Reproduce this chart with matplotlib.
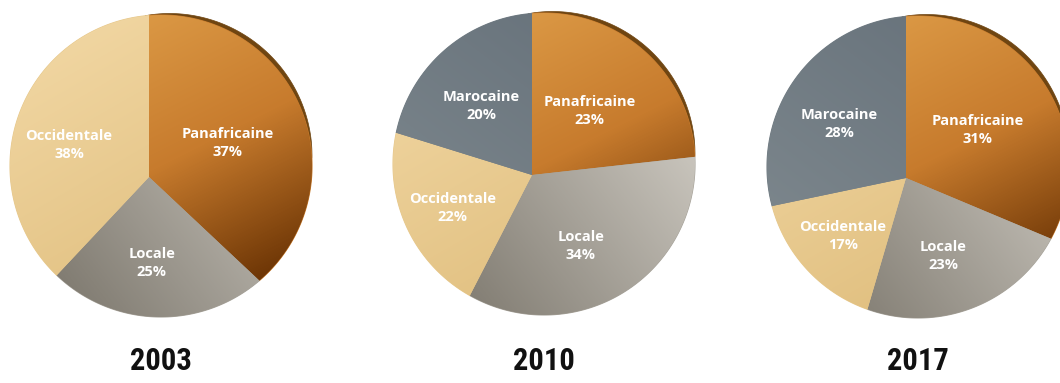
import numpy as np
import matplotlib
matplotlib.use("Agg")
import matplotlib.pyplot as plt
from matplotlib import font_manager
from matplotlib.patches import Polygon
from matplotlib.colors import LinearSegmentedColormap

# Parts of each year's programme, clockwise from 12 o'clock
years = ["2003", "2010", "2017"]
categories = ["Panafricaine", "Locale", "Occidentale", "Marocaine"]
shares_2003 = [37, 25, 38, 0]
shares_2010 = [23, 34, 22, 20]
shares_2017 = [31, 23, 17, 28]
all_shares = [shares_2003, shares_2010, shares_2017]

# Shading per slice: gradient direction (x right, y down) and colour stops
shading = {
    "Panafricaine": ((0.45, 0.89), [(0.0, "#dc9a46"), (0.5, "#c77b2d"), (1.0, "#6a3304")]),
    "Locale": ((0.8, -0.6), [(0.0, "#817c72"), (1.0, "#cfcbc3")]),
    "Occidentale": ((0.5, 0.87), [(0.0, "#f0d5a0"), (1.0, "#dfbd7c")]),
    "Marocaine": ((-0.6, 0.8), [(0.0, "#67727b"), (1.0, "#7d878d")]),
}
rim_colour = "#6f4511"

# Pie geometry in pixels (y grows downward)
W, H = 1060, 383
pie_centres = [(161, 166), (544, 164), (918, 167)]
radius = 151
apex_shift = (-12, 11)
label_dist = 0.57
year_baseline = 370


def narrow_bold():
    """Pick a condensed bold face if one is installed."""
    wanted = ["Roboto Condensed", "Liberation Sans Narrow", "DejaVu Sans", "Open Sans Condensed"]
    found = []
    for f in font_manager.fontManager.ttflist:
        narrow = ("Condensed" in f.name or "Narrow" in f.name
                  or str(f.stretch) in ("condensed", "semi-condensed", "extra-condensed"))
        bold = f.weight in ("bold", 700, "heavy", "extra bold", 800) or "Bold" in f.fname
        if narrow and bold and "Oblique" not in f.fname and "Italic" not in f.fname:
            rank = wanted.index(f.name) if f.name in wanted else len(wanted)
            found.append((rank, f.fname))
    if found:
        return font_manager.FontProperties(fname=sorted(found)[0][1], size=22)
    return font_manager.FontProperties(family="Roboto", weight="bold", size=21)


def ray_hit(apex, centre, theta):
    """Point where a ray from the apex (clockwise angle from top) meets the rim."""
    d = np.array([np.sin(theta), -np.cos(theta)])
    w = np.array(apex) - np.array(centre)
    b = w @ d
    s = -b + np.sqrt(b * b - (w @ w - radius ** 2))
    return np.array(apex) + s * d


year_font = narrow_bold()

fig = plt.figure(figsize=(W / 100, H / 100), dpi=100)
ax = fig.add_axes([0, 0, 1, 1])
ax.set_xlim(0, W)
ax.set_ylim(H, 0)
ax.axis("off")

for year, shares, (cx, cy) in zip(years, all_shares, pie_centres):
    apex = np.array([cx + apex_shift[0], cy + apex_shift[1]])
    total = float(sum(shares))
    x0, x1 = cx - radius - 10, cx + radius + 10
    y0, y1 = cy - radius - 10, cy + radius + 10
    gx, gy = np.meshgrid(np.arange(x0, x1) + 0.5, np.arange(y0, y1) + 0.5)
    u, v = (gx - cx) / radius, (gy - cy) / radius

    # dark edge showing behind the upper-right of the disc
    phi = np.radians(np.linspace(3, 96, 120))
    th = 4.5 * np.sin(np.pi * (phi - phi[0]) / (phi[-1] - phi[0])) ** 0.8
    outer = np.column_stack([cx + (radius + th) * np.cos(phi), cy - (radius + th) * np.sin(phi)])
    inner = np.column_stack([cx + (radius - 2) * np.cos(phi), cy - (radius - 2) * np.sin(phi)])[::-1]
    ax.add_patch(Polygon(np.vstack([outer, inner]), closed=True, facecolor=rim_colour,
                         edgecolor=rim_colour, linewidth=0.5, zorder=1))

    start = 0.0
    for name, value in zip(categories, shares):
        if value <= 0:
            continue
        stop = start + value / total * 2 * np.pi
        thetas = np.linspace(start, stop, max(int(np.degrees(stop - start)), 2) * 2)
        arc = np.array([ray_hit(apex, (cx, cy), t) for t in thetas])
        pts = np.vstack([apex, arc])

        (dx, dy), stops = shading[name]
        cmap = LinearSegmentedColormap.from_list(name, stops)
        t = np.clip((u * dx + v * dy + 1) / 2, 0, 1)
        face = Polygon(pts, closed=True, facecolor=cmap(0.5), edgecolor=cmap(0.5),
                       linewidth=0.8, zorder=2)
        ax.add_patch(face)
        im = ax.imshow(cmap(t), extent=(x0, x1, y1, y0), origin="upper",
                       interpolation="bilinear", zorder=3)
        im.set_clip_path(face)

        mid = (start + stop) / 2
        lx = apex[0] + label_dist * radius * np.sin(mid)
        ly = apex[1] - label_dist * radius * np.cos(mid)
        ax.text(lx, ly, f"{name}\n{value}%", ha="center", va="center", color="white",
                fontsize=10.5, fontweight="bold", family=["Open Sans", "DejaVu Sans"],
                linespacing=1.35, zorder=5)
        start = stop

    ax.text(cx, year_baseline, year, ha="center", va="baseline", color="#111111",
            fontproperties=year_font, zorder=5)

ax.set_xlim(0, W)
ax.set_ylim(H, 0)
ax.set_aspect("auto")
fig.savefig("out.png", dpi=100)
